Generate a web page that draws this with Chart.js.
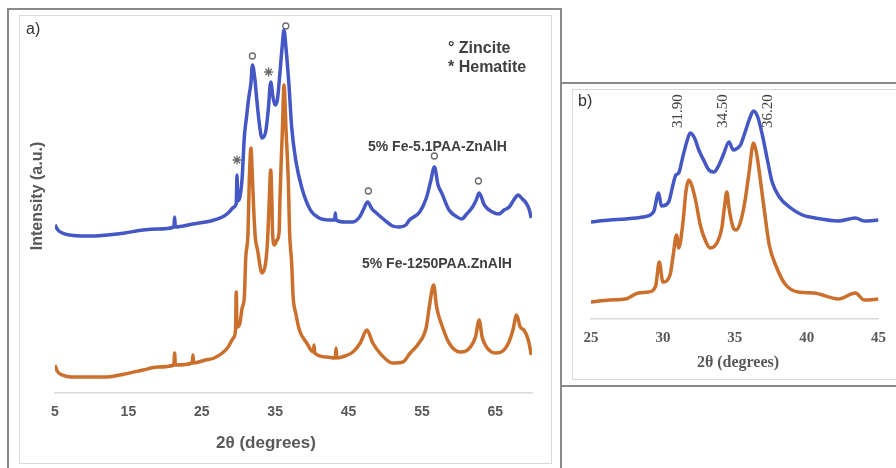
<!DOCTYPE html>
<html>
<head>
<meta charset="utf-8">
<script src="https://cdn.jsdelivr.net/npm/chart.js@4.4.1/dist/chart.umd.min.js"></script>
<style>
  body { margin: 0; background: #fff; }
  #page { position: relative; width: 896px; height: 468px; overflow: hidden; font-family: "Liberation Sans", Arial, sans-serif; }
  .box { position: absolute; box-sizing: border-box; }
  .txt { position: absolute; white-space: nowrap; line-height: 1; }
  canvas { position: absolute; }
  .serif { font-family: "Liberation Serif", "Times New Roman", serif; }
</style>
</head>
<body>
<div id="page">
  <!-- panel a frames -->
  <div class="box" style="left:7px;top:8px;width:555px;height:480px;border:2px solid #8a8a8a;"></div>
  <div class="box" style="left:19px;top:15px;width:533px;height:449px;border:1px solid #d9d9d9;background:#fff;"></div>
  <!-- panel b frames -->
  <div class="box" style="left:560px;top:82px;width:345px;height:305px;border:2px solid #8a8a8a;background:#fff;"></div>
  <div class="box" style="left:572px;top:89px;width:330px;height:291px;border:1px solid #d9d9d9;background:#fff;"></div>

  <canvas id="chartA" width="532" height="448" style="left:19px;top:15px;"></canvas>
  <canvas id="chartB" width="324" height="290" style="left:572px;top:89px;"></canvas>

  <div class="txt" style="left:26px;top:21px;font-size:16px;color:#333;">a)</div>
  <div class="txt" style="left:448px;top:40px;font-size:16px;font-weight:bold;color:#404040;">° Zincite</div>
  <div class="txt" style="left:448px;top:59px;font-size:16px;font-weight:bold;color:#404040;">* Hematite</div>
  <div class="txt" style="left:368px;top:139px;font-size:14px;font-weight:bold;color:#404040;">5% Fe-5.1PAA-ZnAlH</div>
  <div class="txt" style="left:362px;top:256px;font-size:14px;font-weight:bold;color:#404040;">5% Fe-1250PAA.ZnAlH</div>
  <div class="txt" style="left:37px;top:196px;font-size:16px;font-weight:bold;color:#595959;transform:translate(-50%,-50%) rotate(-90deg);">Intensity (a.u.)</div>
  <div class="txt" style="left:266px;top:442px;font-size:17px;font-weight:bold;color:#595959;transform:translate(-50%,-50%);">2θ (degrees)</div>

  <div class="txt" style="left:578px;top:93px;font-size:16px;color:#333;">b)</div>
  <div class="txt serif" style="left:738px;top:362px;font-size:16px;font-weight:bold;color:#595959;transform:translate(-50%,-50%);">2θ (degrees)</div>
</div>

<script>
// ----- DATA : panel a (2theta in degrees, intensity a.u.) -----
const feA_5PAA = [
  [5.0,168],[5.4,163],[6.0,160],[7.0,158],[8.7,157],[10.5,157],[12.1,158],[14.5,160],[17.0,163],[19.0,164],
  [21.2,166],[21.3,176],[21.4,166],[23.8,169],[25.5,171],[26.7,173],[27.8,176],[28.6,180],[29.4,186],[29.7,190],
  [29.8,218],[29.9,192],[30.2,196],[30.5,215],[30.8,256],[31.1,276],[31.4,295],[31.7,310],[31.9,328],[32.25,313],
  [32.5,293],[32.9,266],[33.2,255],[33.7,261],[34.06,283],[34.4,311],[34.7,296],[35.0,288],[35.3,293],[35.65,320],
  [36.0,350],[36.2,363],[36.5,343],[36.9,306],[37.25,266],[37.8,233],[38.6,206],[39.8,183],[41.0,175],[42.5,173],
  [43.1,173],[43.2,180],[43.3,173],[44.5,171],[45.6,171],[46.5,176],[47.0,183],[47.6,191],[48.2,184],[48.8,180],
  [49.9,173],[51.0,167],[51.9,166],[52.8,168],[53.3,173],[54.7,181],[55.6,195],[56.2,212],[56.7,226],[57.2,208],
  [57.7,200],[58.7,183],[59.8,176],[60.4,174],[61.1,179],[61.9,186],[62.4,193],[62.8,200],[63.5,188],[64.6,181],
  [65.5,179],[66.2,183],[66.9,186],[67.6,194],[68.1,198],[68.7,194],[69.2,190],[69.6,184],[69.9,175]
];
const feA_1250PAA = [
  [5.0,28],[5.3,22],[6.0,18],[7.2,16],[10.0,16],[12.1,16],[14.5,19],[17.0,23],[19.0,26],[21.2,28],
  [21.3,40],[21.4,28],[23.7,30],[23.8,38],[23.9,30],[25.5,33],[26.7,35],[27.8,40],[28.6,46],[29.3,55],
  [29.6,63],[29.7,101],[29.8,66],[30.2,70],[30.5,85],[30.8,96],[31.0,136],[31.3,160],[31.45,206],[31.7,245],
  [31.9,216],[32.1,180],[32.3,155],[32.6,143],[33.2,120],[33.7,130],[33.97,153],[34.2,193],[34.4,223],[34.55,193],
  [34.65,160],[34.9,148],[35.25,153],[35.55,162],[35.65,193],[35.8,226],[36.0,266],[36.2,308],[36.5,260],[36.8,210],
  [36.97,160],[37.25,130],[37.45,96],[37.8,80],[38.3,63],[39.3,50],[40.2,41],[40.3,48],[40.4,40],[42.0,36],
  [43.2,35],[43.3,45],[43.4,35],[44.5,37],[45.6,41],[46.6,50],[47.5,63],[48.3,50],[49.5,38],[51.0,30],
  [52.4,31],[53.4,40],[54.6,50],[55.6,66],[56.0,86],[56.6,108],[57.0,86],[57.8,66],[58.7,50],[60.2,41],
  [61.0,42],[61.6,46],[62.3,56],[62.8,73],[63.2,56],[63.8,46],[65.0,40],[65.8,41],[66.8,50],[67.4,63],
  [67.9,78],[68.4,66],[68.9,63],[69.5,53],[69.9,38]
];
const zinciteMarks = [[31.9,337],[36.45,367],[47.7,202],[56.7,237],[62.7,212]];
const hematiteMarks = [[29.8,233],[34.1,321]];
const xTicksA = [5, 15, 25, 35, 45, 55, 65];

// ----- DATA : panel b (zoom 25-45 deg) -----
const feB_5PAA = [
  [25.0,97],[26.3,99],[27.4,100],[28.6,102],[29.35,107],[29.7,126],[29.9,113],[30.4,117],[30.7,134],[30.9,144],
  [31.1,146],[31.4,163],[31.7,179],[31.9,186],[32.2,181],[32.5,169],[32.9,157],[33.2,149],[33.55,147],[33.9,154],
  [34.2,164],[34.6,177],[34.9,169],[35.1,170],[35.4,174],[35.7,186],[36.05,201],[36.3,208],[36.6,202],[36.95,182],
  [37.3,157],[37.6,137],[38.1,122],[38.8,112],[39.7,104],[40.6,101],[42.2,98],[43.4,101],[44.0,98],[45.0,99]
];
const feB_1250PAA = [
  [25.0,17],[26.3,19],[27.4,20],[28.3,26],[29.0,27],[29.5,33],[29.75,57],[30.0,37],[30.5,44],[30.7,62],
  [30.95,84],[31.1,71],[31.4,97],[31.6,127],[31.8,139],[32.0,134],[32.3,117],[32.6,94],[33.0,77],[33.3,71],
  [33.8,77],[34.1,91],[34.3,114],[34.45,127],[34.6,111],[34.9,91],[35.1,89],[35.4,97],[35.7,117],[36.0,147],
  [36.3,176],[36.5,167],[36.8,137],[37.1,104],[37.4,74],[37.9,52],[38.5,35],[39.4,27],[40.5,26],[42.2,20],
  [43.4,26],[44.0,19],[45.0,20]
];
const peakAngles = [31.90, 34.50, 36.20];
const xTicksB = [25, 30, 35, 40, 45];

const BLUE = '#4457c4';
const ORANGE = '#cb6f2c';
const GREY = '#595959';
const toXY = arr => arr.map(p => ({ x: p[0], y: p[1] }));
const lineStyle = { borderWidth: 3.5, pointRadius: 0, cubicInterpolationMode: 'monotone' };

Chart.defaults.animation = false;
Chart.defaults.font.family = '"Liberation Sans", Arial, sans-serif';

// ----- CHART a -----
new Chart(document.getElementById('chartA').getContext('2d'), {
  type: 'line',
  data: {
    datasets: [
      { data: toXY(feA_5PAA), borderColor: BLUE, ...lineStyle },
      { data: toXY(feA_1250PAA), borderColor: ORANGE, ...lineStyle },
      { type: 'scatter', data: toXY(zinciteMarks), pointStyle: 'circle', pointRadius: 3,
        borderColor: '#6a6a6a', backgroundColor: '#fff', borderWidth: 1.3, clip: false },
      { type: 'scatter', data: toXY(hematiteMarks), pointStyle: 'star', pointRadius: 4.5,
        borderColor: '#6a6a6a', borderWidth: 1.3, clip: false }
    ]
  },
  options: {
    responsive: false,
    layout: { padding: { left: 36, top: 8, right: 19, bottom: 0 } },
    plugins: { legend: { display: false }, tooltip: { enabled: false } },
    scales: {
      x: {
        type: 'linear', min: 5, max: 70,
        afterBuildTicks: s => { s.ticks = xTicksA.map(v => ({ value: v })); },
        afterFit: s => { s.height = 70; },
        grid: { display: false, drawTicks: false },
        border: { display: true, color: '#d9d9d9', width: 1.5 },
        ticks: { autoSkip: false, maxRotation: 0, padding: 11, color: GREY,
                 font: { size: 14, weight: 'bold' } }
      },
      y: { display: false, min: 0, max: 370 }
    }
  }
});

// ----- CHART b -----
const peakLabels = {
  id: 'peakLabels',
  afterDatasetsDraw(chart) {
    const { ctx, scales: { x, y } } = chart;
    const shift = [-12, -5, 16];
    ctx.save();
    ctx.font = '15px "Liberation Serif", "Times New Roman", serif';
    ctx.fillStyle = '#404040';
    ctx.textAlign = 'center';
    ctx.textBaseline = 'middle';
    peakAngles.forEach((p, i) => {
      ctx.save();
      ctx.translate(x.getPixelForValue(p) + shift[i], y.getPixelForValue(208));
      ctx.rotate(-Math.PI / 2);
      ctx.fillText(p.toFixed(2), 0, 0);
      ctx.restore();
    });
    ctx.restore();
  }
};

new Chart(document.getElementById('chartB').getContext('2d'), {
  type: 'line',
  data: {
    datasets: [
      { data: toXY(feB_5PAA), borderColor: BLUE, ...lineStyle },
      { data: toXY(feB_1250PAA), borderColor: ORANGE, ...lineStyle }
    ]
  },
  plugins: [peakLabels],
  options: {
    responsive: false,
    layout: { padding: { left: 19, top: 6, right: 11, bottom: 0 } },
    plugins: { legend: { display: false }, tooltip: { enabled: false } },
    scales: {
      x: {
        type: 'linear', min: 25, max: 45,
        afterBuildTicks: s => { s.ticks = xTicksB.map(v => ({ value: v })); },
        afterFit: s => { s.height = 60; },
        grid: { display: false, drawTicks: false },
        border: { display: true, color: '#d9d9d9', width: 1.5 },
        ticks: { autoSkip: false, maxRotation: 0, padding: 10, color: GREY,
                 font: { family: '"Liberation Serif", "Times New Roman", serif', size: 15, weight: 'bold' } }
      },
      y: { display: false, min: 0, max: 224 }
    }
  }
});
</script>
</body>
</html>
